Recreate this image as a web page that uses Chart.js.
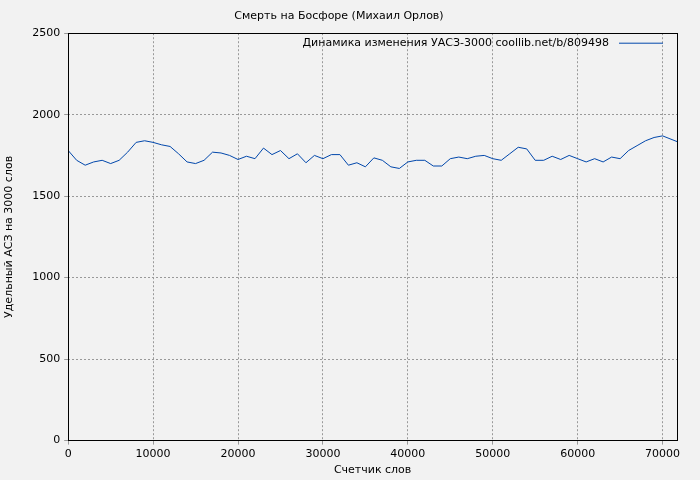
<!DOCTYPE html>
<html>
<head>
<meta charset="utf-8">
<script src="https://cdn.jsdelivr.net/npm/chart.js@4"></script>
<style>
  body { margin: 0; background: #f2f2f2; }
  #wrap { width: 700px; height: 480px; }
</style>
</head>
<body>
<div id="wrap"><canvas id="c"></canvas></div>
<script>
const words = [0, 1000, 2000, 3000, 4000, 5000, 6000, 7000, 8000, 9000, 10000, 11000, 12000, 13000, 14000, 15000, 16000, 17000, 18000, 19000, 20000, 21000, 22000, 23000, 24000, 25000, 26000, 27000, 28000, 29000, 30000, 31000, 32000, 33000, 34000, 35000, 36000, 37000, 38000, 39000, 40000, 41000, 42000, 43000, 44000, 45000, 46000, 47000, 48000, 49000, 50000, 51000, 52000, 53000, 54000, 55000, 56000, 57000, 58000, 59000, 60000, 61000, 62000, 63000, 64000, 65000, 66000, 67000, 68000, 69000, 70000, 71700];
const uasz = [1780, 1720, 1690, 1710, 1720, 1700, 1720, 1770, 1830, 1840, 1830, 1815, 1805, 1760, 1710, 1700, 1720, 1770, 1765, 1750, 1725, 1745, 1730, 1795, 1755, 1780, 1730, 1760, 1705, 1750, 1730, 1755, 1755, 1690, 1705, 1680, 1735, 1720, 1680, 1670, 1710, 1720, 1720, 1685, 1685, 1730, 1740, 1730, 1745, 1750, 1730, 1720, 1760, 1800, 1790, 1720, 1720, 1745, 1725, 1750, 1730, 1710, 1730, 1710, 1740, 1730, 1780, 1810, 1840, 1860, 1870, 1835];
const xTicks = [0, 10000, 20000, 30000, 40000, 50000, 60000, 70000];
const yTicks = [0, 500, 1000, 1500, 2000, 2500];
const seriesLabel = 'Динамика изменения УАСЗ-3000 coollib.net/b/809498';

const font = { family: 'DejaVu Sans', size: 11 };

const legendPlugin = {
	id: 'insideLegend',
	afterDraw(chart) {
		const ctx = chart.ctx;
		const area = chart.chartArea;
		const y = area.top + 10;
		ctx.save();
		ctx.font = '11px DejaVu Sans';
		ctx.fillStyle = '#000';
		ctx.textAlign = 'right';
		ctx.textBaseline = 'middle';
		ctx.fillText(seriesLabel, area.right - 68, y);
		ctx.strokeStyle = '#0047ab';
		ctx.lineWidth = 1;
		ctx.beginPath();
		ctx.moveTo(area.right - 58, y);
		ctx.lineTo(area.right - 14, y);
		ctx.stroke();
		ctx.restore();
	}
};

const frame = {
	id: 'frame',
	beforeDraw(chart) {
		const ctx = chart.ctx;
		ctx.save();
		ctx.fillStyle = '#f2f2f2';
		ctx.fillRect(0, 0, chart.width, chart.height);
		ctx.restore();
	},
	afterDraw(chart) {
		const ctx = chart.ctx;
		const a = chart.chartArea;
		ctx.save();
		ctx.strokeStyle = '#000';
		ctx.lineWidth = 1;
		ctx.strokeRect(Math.round(a.left) + 0.5, Math.round(a.top) + 0.5, Math.round(a.right - a.left), Math.round(a.bottom - a.top));
		ctx.restore();
	}
};

new Chart('c', {
	type: 'line',
	data: {
		datasets: [{
			label: seriesLabel,
			data: words.map((w, i) => ({ x: w, y: uasz[i] })),
			borderColor: '#0047ab',
			borderWidth: 1,
			pointRadius: 0,
			tension: 0
		}]
	},
	options: {
		responsive: true,
		maintainAspectRatio: false,
		animation: false,
		layout: { padding: { top: 4, right: 23, left: 1, bottom: 3 } },
		plugins: {
			legend: { display: false },
			tooltip: { enabled: false },
			title: {
				display: true,
				text: 'Смерть на Босфоре (Михаил Орлов)',
				color: '#000',
				font: { family: 'DejaVu Sans', size: 11, weight: 'normal' },
				padding: { top: 6, bottom: 10 }
			}
		},
		scales: {
			x: {
				type: 'linear',
				min: 0,
				max: 71700,
				afterBuildTicks(axis) {
					axis.ticks = xTicks.map(v => ({ value: v }));
				},
				ticks: { color: '#000', font: font, maxRotation: 0, callback: v => String(v) },
				grid: { color: '#999', borderDash: [2, 2], tickLength: 4 },
				border: { display: false, dash: [2, 2] },
				title: { display: true, text: 'Счетчик слов', color: '#000', font: font, padding: 0 }
			},
			y: {
				min: 0,
				max: 2500,
				afterBuildTicks(axis) {
					axis.ticks = yTicks.map(v => ({ value: v }));
				},
				ticks: { color: '#000', font: font, padding: 4, callback: v => String(v) },
				grid: { color: '#999', tickLength: 4 },
				border: { display: false, dash: [2, 2] },
				title: { display: true, text: 'Удельный АСЗ на 3000 слов', color: '#000', font: font, padding: { top: 2, bottom: 12 } }
			}
		}
	},
	plugins: [frame, legendPlugin]
});
</script>
</body>
</html>
